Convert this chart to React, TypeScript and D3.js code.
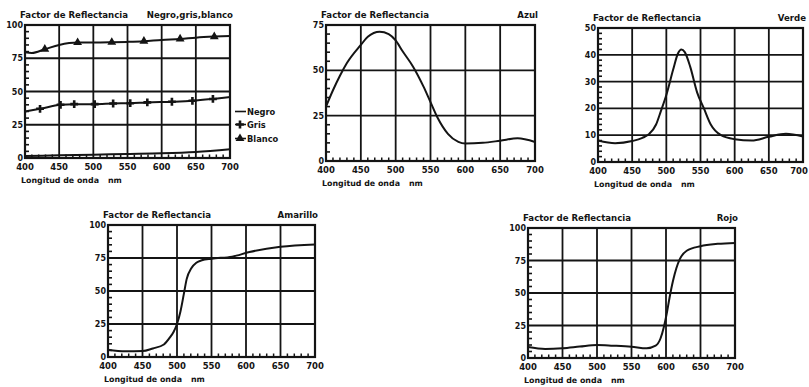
import React from "react";
import * as d3 from "d3";

// ---------- DATA ----------
const xTicks = [400, 450, 500, 550, 600, 650, 700];
const yTicks100 = [0, 25, 50, 75, 100];
const yTicks75 = [0, 25, 50, 75];
const yTicks50 = [0, 10, 20, 30, 40, 50];

const panelTitle = "Factor de Reflectancia";
const axisLabel = "Longitud de onda";
const unitLabel = "nm";

const negroNm = [400, 450, 500, 550, 600, 650, 700];
const negroVal = [1.5, 2, 2.5, 3, 3.5, 4.5, 6.5];

const grisNm = [400, 422, 452, 472, 502, 529, 554, 579, 615, 645, 675, 700];
const grisVal = [35, 37, 40, 40.5, 40.5, 41, 41.2, 41.8, 42.3, 43, 44.4, 45.8];
const grisMarkNm = [422, 452, 472, 502, 529, 554, 579, 615, 645, 675];
const grisMarkVal = [37, 40, 40.5, 40.5, 41, 41.2, 41.8, 42.3, 43, 44.4];

const blancoNm = [400, 410, 429, 450, 477, 500, 527, 550, 574, 600, 627, 650, 677, 700];
const blancoVal = [79.5, 79, 81.8, 85, 86.8, 86.8, 87, 87.3, 87.8, 88.8, 89.5, 90.5, 91.3, 91.8];
const blancoMarkNm = [429, 477, 527, 574, 627, 677];
const blancoMarkVal = [81.8, 86.8, 87, 87.8, 89.5, 91.3];

const azulNm = [400, 410, 420, 430, 450, 460, 477, 490, 500, 510, 525, 540, 550, 560, 575, 590, 600, 625, 650, 675, 700];
const azulVal = [30, 39, 47, 54, 64, 68.5, 71.3, 70, 66.5, 60.5, 52, 41, 32.5, 24, 15, 10.5, 9.6, 10, 11.2, 12.5, 10.5];

const verdeNm = [400, 425, 450, 465, 475, 485, 492, 500, 510, 517, 522, 527, 535, 545, 555, 565, 580, 600, 625, 650, 675, 700];
const verdeVal = [8, 7, 7.8, 9, 10.5, 14, 19, 25, 34.5, 40.5, 42, 41, 35.5, 26, 20, 14, 10, 8.5, 8, 9.4, 10.5, 9.5];

const amarilloNm = [400, 425, 450, 465, 481, 490, 495, 500, 505, 510, 514, 521, 528, 536, 550, 580, 605, 650, 700];
const amarilloVal = [5.5, 4.3, 4.5, 6.5, 9.5, 15, 19, 25, 34.5, 48, 59, 67.5, 71.4, 73.3, 74.5, 76, 79.5, 83.5, 85.3];

const rojoNm = [400, 425, 450, 475, 500, 523, 550, 572, 585, 592, 597, 601, 605, 610, 615, 620, 630, 650, 675, 700];
const rojoVal = [8.5, 7, 7.5, 8.8, 10, 9.5, 8.7, 7.5, 9.5, 15, 24, 34, 46, 59, 69, 76, 82.5, 86, 87.8, 88.5];

// ---------- LAYOUT ----------
type Series = { nm: number[]; val: number[]; markNm?: number[]; markVal?: number[]; marker?: "cross" | "triangle" };
type Panel = {
  left: number; top: number; width: number; height: number;
  yMax: number; yTicks: number[]; yMinor: number; label: string; series: Series[]; legend?: boolean;
};

const INK = "#141414";
const FONT = "'DejaVu Sans', sans-serif";
const W = 809;

const panels: Panel[] = [
  {
    left: 25, top: 25, width: 205, height: 133, yMax: 100, yTicks: yTicks100, yMinor: 5,
    label: "Negro,gris,blanco", legend: true,
    series: [
      { nm: negroNm, val: negroVal },
      { nm: grisNm, val: grisVal, markNm: grisMarkNm, markVal: grisMarkVal, marker: "cross" },
      { nm: blancoNm, val: blancoVal, markNm: blancoMarkNm, markVal: blancoMarkVal, marker: "triangle" },
    ],
  },
  { left: 326, top: 25, width: 209, height: 136, yMax: 75, yTicks: yTicks75, yMinor: 5, label: "Azul", series: [{ nm: azulNm, val: azulVal }] },
  { left: 598, top: 28, width: 205, height: 134, yMax: 50, yTicks: yTicks50, yMinor: 2, label: "Verde", series: [{ nm: verdeNm, val: verdeVal }] },
  { left: 108, top: 225, width: 207, height: 132, yMax: 100, yTicks: yTicks100, yMinor: 5, label: "Amarillo", series: [{ nm: amarilloNm, val: amarilloVal }] },
  { left: 528, top: 228, width: 207, height: 130, yMax: 100, yTicks: yTicks100, yMinor: 5, label: "Rojo", series: [{ nm: rojoNm, val: rojoVal }] },
];

function markerPath(kind: "cross" | "triangle") {
  return kind === "cross"
    ? d3.symbol().type(d3.symbolCross).size(34)()
    : d3.symbol().type(d3.symbolTriangle).size(34)();
}

function ChartPanel({ p }: { p: Panel }) {
  const x = d3.scaleLinear().domain([400, 700]).range([p.left, p.left + p.width]);
  const y = d3.scaleLinear().domain([0, p.yMax]).range([p.top + p.height, p.top]);
  const bottom = p.top + p.height;
  const line = d3
    .line<[number, number]>()
    .x((d) => x(d[0]))
    .y((d) => y(d[1]))
    .curve(d3.curveMonotoneX);

  const xMinor = d3.range(400, 701, 10).filter((v) => v % 50 !== 0);
  const yMinor = d3.range(0, p.yMax + 0.001, p.yMinor).filter((v) => !p.yTicks.includes(v));

  return (
    <g>
      {xTicks.map((t) => (
        <line key={"gx" + t} x1={x(t)} x2={x(t)} y1={p.top} y2={bottom} stroke={INK} strokeWidth={1.8} />
      ))}
      {p.yTicks.map((t) => (
        <line key={"gy" + t} x1={p.left} x2={p.left + p.width} y1={y(t)} y2={y(t)} stroke={INK} strokeWidth={1.8} />
      ))}
      {xMinor.map((t) => (
        <line key={"mx" + t} x1={x(t)} x2={x(t)} y1={bottom} y2={bottom - 3.5} stroke={INK} strokeWidth={1.5} />
      ))}
      {yMinor.map((t) => (
        <line key={"my" + t} x1={p.left} x2={p.left + 4} y1={y(t)} y2={y(t)} stroke={INK} strokeWidth={1.6} />
      ))}
      <rect x={p.left} y={p.top} width={p.width} height={p.height} fill="none" stroke={INK} strokeWidth={2.2} />
      {p.series.map((s, i) => (
        <g key={"s" + i}>
          <path
            d={line(s.nm.map((n, k) => [n, s.val[k]] as [number, number])) || ""}
            fill="none"
            stroke={INK}
            strokeWidth={2}
          />
          {s.markNm &&
            s.markNm.map((n, k) => (
              <path
                key={"m" + k}
                d={markerPath(s.marker!) || ""}
                transform={`translate(${x(n)},${y(s.markVal![k])})`}
                fill={INK}
              />
            ))}
        </g>
      ))}
      {xTicks.map((t) => (
        <text
          key={"tx" + t}
          x={Math.min(x(t), W - 10)}
          y={bottom + 12}
          textAnchor="middle"
          fontSize={8.5}
          fontWeight="bold"
          fontFamily={FONT}
          fill={INK}
        >
          {t}
        </text>
      ))}
      {p.yTicks.map((t) => (
        <text key={"ty" + t} x={p.left - 2} y={y(t) + 3} textAnchor="end" fontSize={8} fontWeight="bold" fontFamily={FONT} fill={INK}>
          {t}
        </text>
      ))}
      <text x={p.left - 5} y={p.top - 7} fontSize={8.6} fontWeight="bold" fontFamily={FONT} fill={INK}>
        {panelTitle}
      </text>
      <text x={Math.min(p.left + p.width + 3, W - 2)} y={p.top - 7} textAnchor="end" fontSize={8.6} fontWeight="bold" fontFamily={FONT} fill={INK}>
        {p.label}
      </text>
      <text x={p.left - 4} y={bottom + 25} fontSize={7.9} fontWeight="bold" fontFamily={FONT} fill={INK}>
        {axisLabel}
      </text>
      <text x={p.left + 83} y={bottom + 25} fontSize={7.9} fontWeight="bold" fontFamily={FONT} fill={INK}>
        {unitLabel}
      </text>
      {p.legend && (
        <g>
          {[
            { name: "Negro", marker: null as null | "cross" | "triangle", dy: 111.5 },
            { name: "Gris", marker: "cross" as const, dy: 124.5 },
            { name: "Blanco", marker: "triangle" as const, dy: 138.5 },
          ].map((l) => (
            <g key={l.name}>
              <line x1={235} x2={246} y1={l.dy} y2={l.dy} stroke={INK} strokeWidth={1.6} />
              {l.marker && <path d={markerPath(l.marker) || ""} transform={`translate(240,${l.dy})`} fill={INK} />}
              <text x={247} y={l.dy + 3} fontSize={8.3} fontWeight="bold" fontFamily={FONT} fill={INK}>
                {l.name}
              </text>
            </g>
          ))}
        </g>
      )}
    </g>
  );
}

export default function App() {
  return (
    <svg
      width={809}
      height={387}
      viewBox="0 0 809 387"
      style={{ position: "absolute", left: 0, top: 0, background: "#ffffff", display: "block" }}
    >
      <rect x={0} y={0} width={809} height={387} fill="#ffffff" />
      {panels.map((p, i) => (
        <ChartPanel key={i} p={p} />
      ))}
    </svg>
  );
}
